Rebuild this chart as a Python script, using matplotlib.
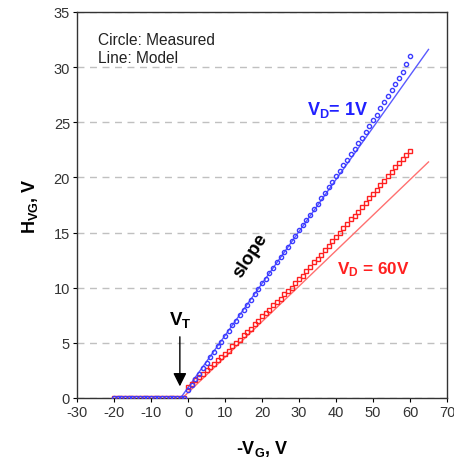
import numpy as np
import matplotlib
matplotlib.use('Agg')
import matplotlib.pyplot as plt

plt.rcParams['font.family'] = ['Liberation Sans', 'DejaVu Sans']
plt.rcParams['mathtext.fontset'] = 'custom'
plt.rcParams['mathtext.rm'] = 'Liberation Sans'
plt.rcParams['mathtext.it'] = 'Liberation Sans:italic'
plt.rcParams['mathtext.bf'] = 'Liberation Sans:bold'
plt.rcParams['axes.unicode_minus'] = False

# measured data, -V_G from -20 to 60 V in 1 V steps
vg_off = list(range(-20, 0))
vg_on = list(range(0, 61))
h_off = [0.0] * 20

h_vd1 = [0.7, 1.2, 1.7, 2.2, 2.7, 3.2, 3.7, 4.2, 4.7, 5.1,
         5.6, 6.1, 6.6, 7.0, 7.5, 8.0, 8.4, 8.9, 9.4, 9.9,
         10.4, 10.8, 11.3, 11.8, 12.3, 12.8, 13.2, 13.7, 14.2, 14.7,
         15.2, 15.7, 16.1, 16.6, 17.1, 17.6, 18.1, 18.6, 19.1, 19.6,
         20.1, 20.6, 21.1, 21.6, 22.1, 22.6, 23.1, 23.6, 24.1, 24.7,
         25.2, 25.7, 26.3, 26.8, 27.4, 27.9, 28.5, 29.0, 29.6, 30.3,
         31.0]

h_vd60 = [1.0, 1.3, 1.6, 1.9, 2.2, 2.5, 2.8, 3.1, 3.4, 3.7,
          4.0, 4.3, 4.7, 5.0, 5.3, 5.7, 6.0, 6.3, 6.7, 7.0,
          7.4, 7.7, 8.0, 8.4, 8.7, 9.0, 9.4, 9.7, 10.0, 10.4,
          10.8, 11.1, 11.5, 11.9, 12.3, 12.6, 13.0, 13.4, 13.8, 14.2,
          14.6, 15.0, 15.4, 15.8, 16.2, 16.5, 16.9, 17.3, 17.7, 18.1,
          18.5, 18.9, 19.3, 19.7, 20.1, 20.5, 20.9, 21.3, 21.7, 22.0,
          22.4]

# model lines (straight, from threshold)
model1_x = [-2.0, 65.0]
model1_y = [0.0, 31.6]
model60_x = [-1.5, 65.0]
model60_y = [0.0, 21.4]

vt = -2.2

blue = '#3b3bff'
red = '#ff2020'

fig = plt.figure(figsize=(4.54, 4.64), dpi=100)
ax = fig.add_axes([0.1696, 0.1401, 0.815, 0.832])

x_all = vg_off + vg_on
ax.plot(x_all, h_off + h_vd60, linestyle='none', marker='s', ms=3.4,
        mfc='none', mec=red, mew=1.0, zorder=3)
ax.plot(x_all, h_off + h_vd1, linestyle='none', marker='o', ms=3.0,
        mfc='none', mec=blue, mew=1.0, zorder=4)
ax.plot(model1_x, model1_y, color='#5a5aff', lw=1.0, zorder=2)
ax.plot(model60_x, model60_y, color='#ff7070', lw=1.0, zorder=2)

ax.set_xlim(-30, 70)
ax.set_ylim(0, 35)
ax.set_xticks(np.arange(-30, 71, 10))
ax.set_yticks(np.arange(0, 36, 5))
ax.tick_params(direction='out', length=3, width=0.8, labelsize=10.5,
               colors='black', pad=2)
for lbl in ax.get_xticklabels() + ax.get_yticklabels():
    lbl.set_color('#333333')
ax.yaxis.grid(True, linestyle=(0, (5, 4)), color='#c0c0c0', lw=1.0)
ax.set_axisbelow(True)
for s in ax.spines.values():
    s.set_linewidth(1.0)
    s.set_color('#333333')

ax.set_xlabel(r'-V$_\mathbf{G}$, V', fontsize=13, fontweight='bold', labelpad=14)
ax.set_ylabel(r'H$_\mathbf{VG}$, V', fontsize=13, fontweight='bold', labelpad=10)

ax.text(-24.3, 31.7, 'Circle: Measured\nLine: Model', fontsize=11.2,
        va='center', ha='left', linespacing=1.3, color='#222222')
ax.text(32.2, 26.2, r'V$_\mathregular{D}$= 1V', color='#2020ff', fontsize=13,
        fontweight='bold', ha='left', va='center')
ax.text(40.3, 11.7, r'V$_\mathregular{D}$ = 60V', color='#ff2020', fontsize=12.3,
        fontweight='bold', ha='left', va='center')
ax.text(16.8, 13, 'slope', fontsize=13.5, fontweight='bold', rotation=57,
        ha='center', va='center')
ax.text(vt, 7.2, r'V$_\mathbf{T}$', fontsize=13.5, fontweight='bold',
        ha='center', va='center')
ax.annotate('', xy=(vt, 0.8), xytext=(vt, 5.8),
            arrowprops=dict(arrowstyle='-|>', color='black', lw=1.0,
                            mutation_scale=20))

fig.savefig('out.png', dpi=100)
